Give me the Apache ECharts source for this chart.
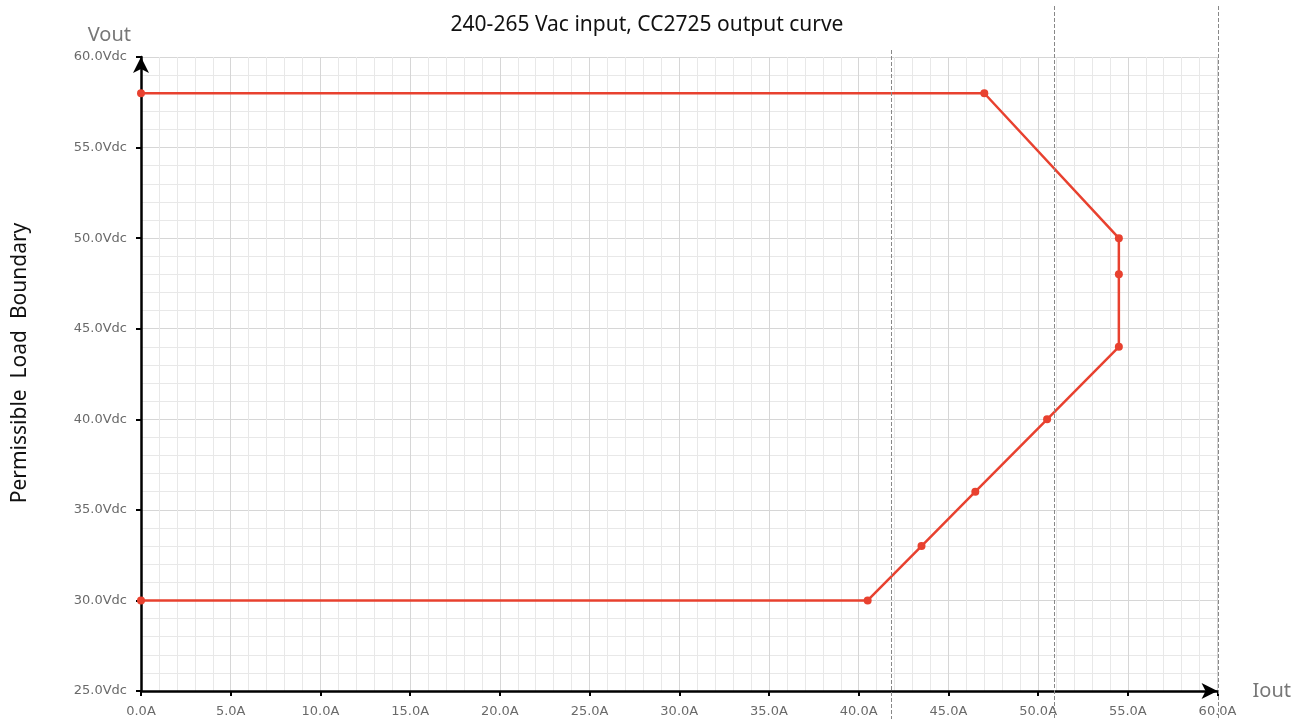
<!DOCTYPE html>
<html>
<head>
<meta charset="utf-8">
<script src="https://cdn.jsdelivr.net/npm/echarts@6/dist/echarts.min.js"></script>
<style>
  html, body { margin: 0; padding: 0; background: #fff; }
  #chartBoundary { width: 1294px; height: 719px; }
</style>
</head>
<body>
<div id="chartBoundary"></div>
<script>
// load boundary points (Iout in A, Vout in Vdc)
var ioutData = [0, 47, 54.5, 54.5, 54.5, 50.5, 46.5, 43.5, 40.5, 0];
var voutData = [58, 58, 50, 48, 44, 40, 36, 33, 30, 30];
// dashed reference lines (A)
var refLines = [41.8, 50.9, 60];
var xRange = [0, 60];
var yRange = [25, 60];

var chartBoundary = echarts.init(document.getElementById('chartBoundary'));

var points = ioutData.map(function (x, i) { return [x, voutData[i]]; });

var option = {
  animation: false,
  backgroundColor: '#fff',
  title: {
    text: '240-265 Vac input, CC2725 output curve',
    left: 'center',
    top: 10,
    textStyle: { color: '#111', fontSize: 21, fontWeight: 'normal', fontFamily: 'Noto Sans' }
  },
  grid: { left: 141, right: 74, top: 57, bottom: 28 },
  xAxis: {
    type: 'value',
    min: xRange[0],
    max: xRange[1],
    interval: 5,
    name: 'Iout',
    nameLocation: 'end',
    nameGap: 35,
    nameTextStyle: { color: '#777', fontSize: 20, fontFamily: 'Noto Sans', padding: [24, 0, 0, 0] },
    axisLine: { lineStyle: { color: '#000', width: 2.5 }, symbol: ['none', 'arrow'], symbolSize: [12, 16] },
    axisTick: { show: true, length: 5, lineStyle: { color: '#000', width: 2 } },
    axisLabel: { color: '#6a6a6a', fontSize: 13, fontFamily: 'DejaVu Sans', margin: 14, formatter: function (v) { return v.toFixed(1) + 'A'; } },
    splitLine: { show: true, lineStyle: { color: '#d6d6d6', width: 1 } },
    minorTick: { show: false, splitNumber: 5 },
    minorSplitLine: { show: true, lineStyle: { color: '#e8e8e8', width: 1 } }
  },
  yAxis: {
    type: 'value',
    min: yRange[0],
    max: yRange[1],
    interval: 5,
    name: 'Vout',
    nameLocation: 'end',
    nameGap: 12,
    nameTextStyle: { color: '#777', fontSize: 20, fontFamily: 'Noto Sans', align: 'right', padding: [0, 10, 0, 0] },
    axisLine: { lineStyle: { color: '#000', width: 2.5 }, symbol: ['none', 'arrow'], symbolSize: [12, 16] },
    axisTick: { show: true, length: 5, lineStyle: { color: '#000', width: 2 } },
    axisLabel: { color: '#6a6a6a', fontSize: 13, fontFamily: 'DejaVu Sans', margin: 14, formatter: function (v) { return v.toFixed(1) + 'Vdc'; } },
    splitLine: { show: true, lineStyle: { color: '#d6d6d6', width: 1 } },
    minorTick: { show: false, splitNumber: 5 },
    minorSplitLine: { show: true, lineStyle: { color: '#e8e8e8', width: 1 } }
  },
  series: [
    {
      name: 'Boundary',
      type: 'line',
      data: points,
      clip: false,
      symbol: 'circle',
      symbolSize: 8,
      z: 5,
      lineStyle: { color: '#e8412f', width: 2.5 },
      itemStyle: { color: '#e8412f' }
    }
  ]
};
chartBoundary.setOption(option);

// rotated side title and dashed verticals that run past the plot
var extras = [
  {
    type: 'text',
    rotation: Math.PI / 2,
    x: 20,
    y: 363,
    style: {
      text: 'Permissible  Load  Boundary',
      fill: '#111',
      fontSize: 21,
      fontFamily: 'Noto Sans',
      align: 'center',
      verticalAlign: 'middle'
    }
  }
];
refLines.forEach(function (v, i) {
  var px = Math.round(chartBoundary.convertToPixel({ xAxisIndex: 0 }, v)) + 0.5;
  extras.push({
    type: 'line',
    z: 10,
    shape: { x1: px, y1: i === 0 ? 50 : 6, x2: px, y2: 719 },
    style: { stroke: '#888', lineWidth: 1, lineDash: [4, 2] }
  });
});
chartBoundary.setOption({ graphic: extras });

window.addEventListener('resize', function () {
  chartBoundary.resize();
});
</script>
</body>
</html>
